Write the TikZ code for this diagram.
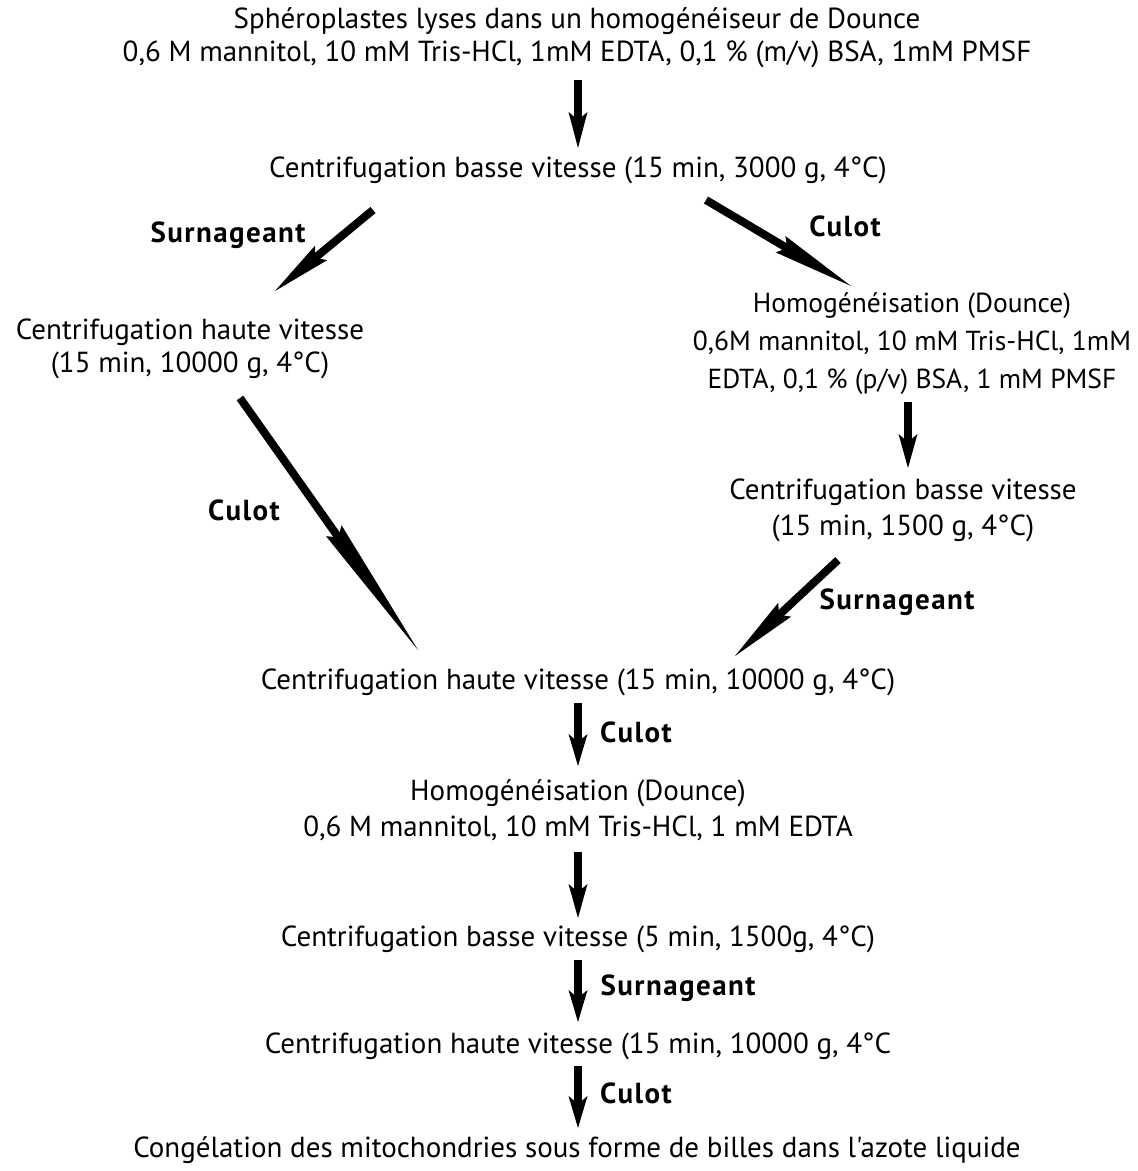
\documentclass[tikz,border=0pt]{standalone}
\usepackage{fontspec}
\setmainfont{PT Sans}
\newfontfamily\plainfont{PT Sans}
\usetikzlibrary{calc}
\newcommand\flecha[3]{%
  \coordinate (tmpb) at ($(#2)!#3!(#1)$);
  \coordinate (tmpn) at ($(#2)!{#3-8pt}!(#1)$);
  \draw[line width=8pt] (#1) -- ($(#2)!{#3-10pt}!(#1)$);
  \fill (#2) -- ($(tmpb)!9.5pt!90:(#2)$) -- (tmpn) -- ($(tmpb)!9.5pt!-90:(#2)$) -- cycle;}
\begin{document}
\begin{tikzpicture}[x=1pt,y=-1pt,
  txt/.style={align=center,font=\fontsize{29}{33}\selectfont,inner sep=0pt},
  lab/.style={font=\fontsize{29}{33}\selectfont\bfseries\addfontfeatures{LetterSpace=5},inner sep=0pt}]
\useasboundingbox[fill=white] (0,0) rectangle (1138,1171);

\node[txt] (n1) at (577,38) {Sphéroplastes lyses dans un homogénéiseur de Dounce\\0,6 M mannitol, 10 mM Tris-HCl, 1mM EDTA, 0,1 \% (m/v) BSA, 1mM PMSF};
\node[txt] (n2) at (578,170) {Centrifugation basse vitesse (15 min, 3000 g, 4°C)};
\node[txt] (n3) at (190,349) {Centrifugation haute vitesse\\(15 min, 10000 g, 4°C)};
\node[txt,font=\fontsize{27.5}{38}\selectfont] (n4) at (912,344) {Homogénéisation (Dounce)\\0,6M mannitol, 10 mM Tris-HCl, 1mM\\EDTA, 0,1 \% (p/v) BSA, 1 mM PMSF};
\node[txt,font=\fontsize{29}{36}\selectfont] (n5) at (903,510) {Centrifugation basse vitesse\\(15 min, 1500 g, 4°C)};
\node[txt] (n6) at (578,682) {Centrifugation haute vitesse (15 min, 10000 g, 4°C)};
\node[txt,font=\fontsize{29}{36}\selectfont] (n7) at (578,810) {Homogénéisation (Dounce)\\0,6 M mannitol, 10 mM Tris-HCl, 1 mM EDTA};
\node[txt] (n8) at (578,939) {Centrifugation basse vitesse (5 min, 1500g, 4°C)};
\node[txt] (n9) at (578,1046) {Centrifugation haute vitesse (15 min, 10000 g, 4°C};
\node[txt,font=\fontsize{29}{33}\plainfont] (n10) at (577,1150) {Congélation des mitochondries sous forme de billes dans l'azote liquide};

\coordinate (a1s) at (578,80);   \coordinate (a1e) at (578,148);
\coordinate (a2s) at (373,210);  \coordinate (a2e) at (275,291);
\coordinate (a3s) at (706,200);  \coordinate (a3e) at (851,286);
\coordinate (a4s) at (908,402);  \coordinate (a4e) at (908,468);
\coordinate (a5s) at (240,398);  \coordinate (a5e) at (418,650);
\coordinate (a6s) at (838,560);  \coordinate (a6e) at (735,656);
\coordinate (a7s) at (578,703);  \coordinate (a7e) at (578,766);
\coordinate (a8s) at (578,852);  \coordinate (a8e) at (578,918);
\coordinate (a9s) at (578,960);  \coordinate (a9e) at (578,1022);
\coordinate (a10s) at (578,1066); \coordinate (a10e) at (578,1128);

\flecha{a1s}{a1e}{36pt}
\flecha{a2s}{a2e}{60pt}
\flecha{a3s}{a3e}{82pt}
\flecha{a4s}{a4e}{34pt}
\flecha{a5s}{a5e}{146pt}
\flecha{a6s}{a6e}{68pt}
\flecha{a7s}{a7e}{32pt}
\flecha{a8s}{a8e}{34pt}
\flecha{a9s}{a9e}{32pt}
\flecha{a10s}{a10e}{32pt}

\node[lab] (l1) at (228,235) {Surnageant};
\node[lab] (l2) at (845,226) {Culot};
\node[lab] (l3) at (244,510) {Culot};
\node[lab] (l4) at (897,602) {Surnageant};
\node[lab] (l5) at (636,732) {Culot};
\node[lab] (l6) at (678,988) {Surnageant};
\node[lab] (l7) at (636,1093) {Culot};
\end{tikzpicture}
\end{document}
